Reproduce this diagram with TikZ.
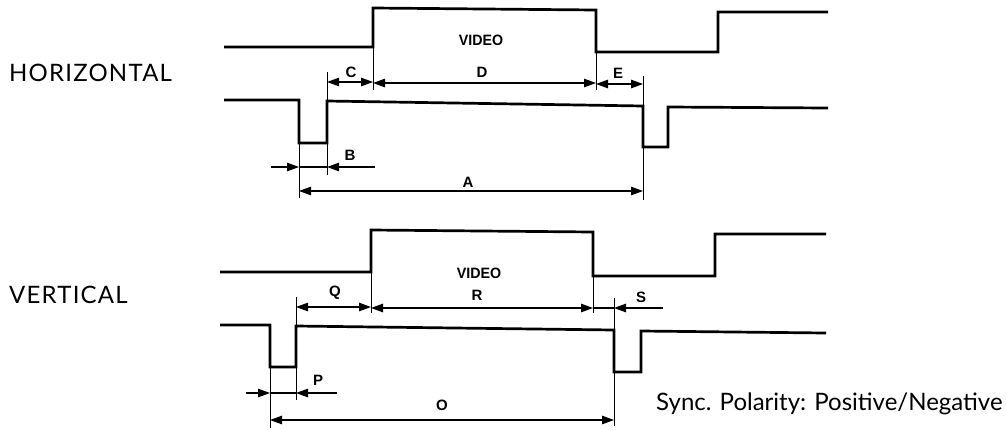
\documentclass[tikz,border=0pt]{standalone}
\usepackage{fontspec}
\setmainfont{Liberation Sans}
\newfontfamily\bigfont{Lato}
\newfontfamily\headfont[LetterSpace=5]{Lato}
\usetikzlibrary{arrows.meta}
\begin{document}
\begin{tikzpicture}[x=1pt,y=-1pt,
  sig/.style={line width=2.7pt, line join=miter},
  ext/.style={line width=1pt},
  dimline/.style={line width=1.1pt},
  onetip/.style={dimline,-{Triangle[length=12pt,width=8.5pt]}},
  twotip/.style={dimline,{Triangle[length=12pt,width=8.5pt]}-{Triangle[length=12pt,width=8.5pt]}},
  lbl/.style={font=\bfseries\fontsize{15}{15}\selectfont, inner sep=0pt},
  vlbl/.style={font=\bfseries\fontsize{15}{15}\selectfont, inner sep=0pt, xscale=0.95},
  head/.style={font=\headfont\fontsize{24}{24}\selectfont, inner sep=0pt, anchor=west},
  big/.style={font=\bigfont\fontsize{24}{24}\selectfont, inner sep=0pt, anchor=west}]
\useasboundingbox (0,0) rectangle (1006,429);

% ---------------- HORIZONTAL ----------------
\node[head] (horiz) at (9,73) {HORIZONTAL};

% video waveform
\coordinate (hv1) at (373,47);
\coordinate (hv2) at (596,52);
\draw[sig] (224,47) -- (hv1) -- (373,8) -- (596,10) -- (hv2) -- (718,52) -- (718,12) -- (828,12);
\node[vlbl] (hvideo) at (481,40) {VIDEO};

% sync waveform
\coordinate (hs1) at (299,143);
\coordinate (hs2) at (327,143);
\coordinate (hs2t) at (327,101);
\coordinate (hs3) at (643,106);
\coordinate (hs4) at (643,147);
\draw[sig] (224,100) -- (299,100) -- (hs1) -- (hs2) -- (hs2t) -- (hs3) -- (hs4) -- (668,147) -- (668,107) -- (828,108);

% extension lines
\coordinate (cx1) at (327,72);
\coordinate (cx2) at (373,90);
\coordinate (dx2) at (596,90);
\coordinate (ex2) at (643,76);
\coordinate (bx1) at (299,198);
\coordinate (bx2) at (327,175);
\coordinate (ax2) at (643,200);
\draw[ext] (cx1) -- (hs2t);
\draw[ext] (hv1) -- (cx2);
\draw[ext] (hv2) -- (dx2);
\draw[ext] (ex2) -- (hs3);
\draw[ext] (hs1) -- (bx1);
\draw[ext] (hs2) -- (bx2);
\draw[ext] (hs4) -- (ax2);

% dimensions
\coordinate (c1) at (327,82); \coordinate (c2) at (373,82);
\coordinate (d2) at (596,83);
\coordinate (e2) at (643,84);
\draw[twotip] (c1) -- (c2);
\draw[twotip] (373,83) -- (d2);
\draw[twotip] (596,84) -- (e2);
\node[lbl] (lc) at (351,72) {C};
\node[lbl] (ld) at (482,72) {D};
\node[lbl] (le) at (618,73) {E};

\coordinate (b0) at (271,167); \coordinate (b1) at (299,167);
\coordinate (b2) at (327,167); \coordinate (b3) at (375,167);
\draw[onetip] (b0) -- (b1);
\draw[dimline] (b1) -- (b2);
\draw[onetip] (b3) -- (b2);
\node[lbl] (lb) at (350,155) {B};

\coordinate (a1) at (299,191); \coordinate (a2) at (643,191);
\draw[twotip] (a1) -- (a2);
\node[lbl] (la) at (468,182) {A};

% ---------------- VERTICAL ----------------
\node[head] (vert) at (9,295) {VERTICAL};

\coordinate (vv1) at (371,272);
\coordinate (vv2) at (593,276);
\draw[sig] (220,272) -- (vv1) -- (371,230) -- (593,232) -- (vv2) -- (715,276) -- (715,234) -- (826,234);
\node[vlbl] (vvideo) at (479,273) {VIDEO};

\coordinate (vs1) at (270,367);
\coordinate (vs2) at (296,367);
\coordinate (vs2t) at (296,326);
\coordinate (vs3) at (614,330);
\coordinate (vs4) at (614,372);
\draw[sig] (220,325) -- (270,325) -- (vs1) -- (vs2) -- (vs2t) -- (vs3) -- (vs4) -- (641,372) -- (641,331) -- (826,333);

\coordinate (qx1) at (296,297);
\coordinate (qx2) at (371,313);
\coordinate (rx2) at (593,313);
\coordinate (sx2) at (614,298);
\coordinate (px1) at (270,428);
\coordinate (px2) at (296,400);
\coordinate (ox2) at (614,426);
\draw[ext] (qx1) -- (vs2t);
\draw[ext] (vv1) -- (qx2);
\draw[ext] (vv2) -- (rx2);
\draw[ext] (sx2) -- (vs3);
\draw[ext] (vs1) -- (px1);
\draw[ext] (vs2) -- (px2);
\draw[ext] (vs4) -- (ox2);

\coordinate (q1) at (296,307); \coordinate (q2) at (371,307);
\coordinate (r2) at (593,308);
\draw[twotip] (q1) -- (q2);
\draw[twotip] (371,308) -- (r2);
\coordinate (s1) at (614,308); \coordinate (s2) at (663,308);
\draw[dimline] (r2) -- (s1);
\draw[onetip] (s2) -- (s1);
\node[lbl] (lq) at (335,293) {Q};
\node[lbl] (lr) at (477,295) {R};
\node[lbl] (ls) at (641,297) {S};

\coordinate (p0) at (246,393); \coordinate (p1) at (270,393);
\coordinate (p2) at (296,393); \coordinate (p3) at (337,393);
\draw[onetip] (p0) -- (p1);
\draw[dimline] (p1) -- (p2);
\draw[onetip] (p3) -- (p2);
\node[lbl] (lp) at (318,380) {P};

\coordinate (o1) at (270,420); \coordinate (o2) at (614,420);
\draw[twotip] (o1) -- (o2);
\node[lbl] (lo) at (442,405) {O};

\node[big] (sync) at (656,404) {Sync. Polarity: Positive/Negative};
\end{tikzpicture}
\end{document}
